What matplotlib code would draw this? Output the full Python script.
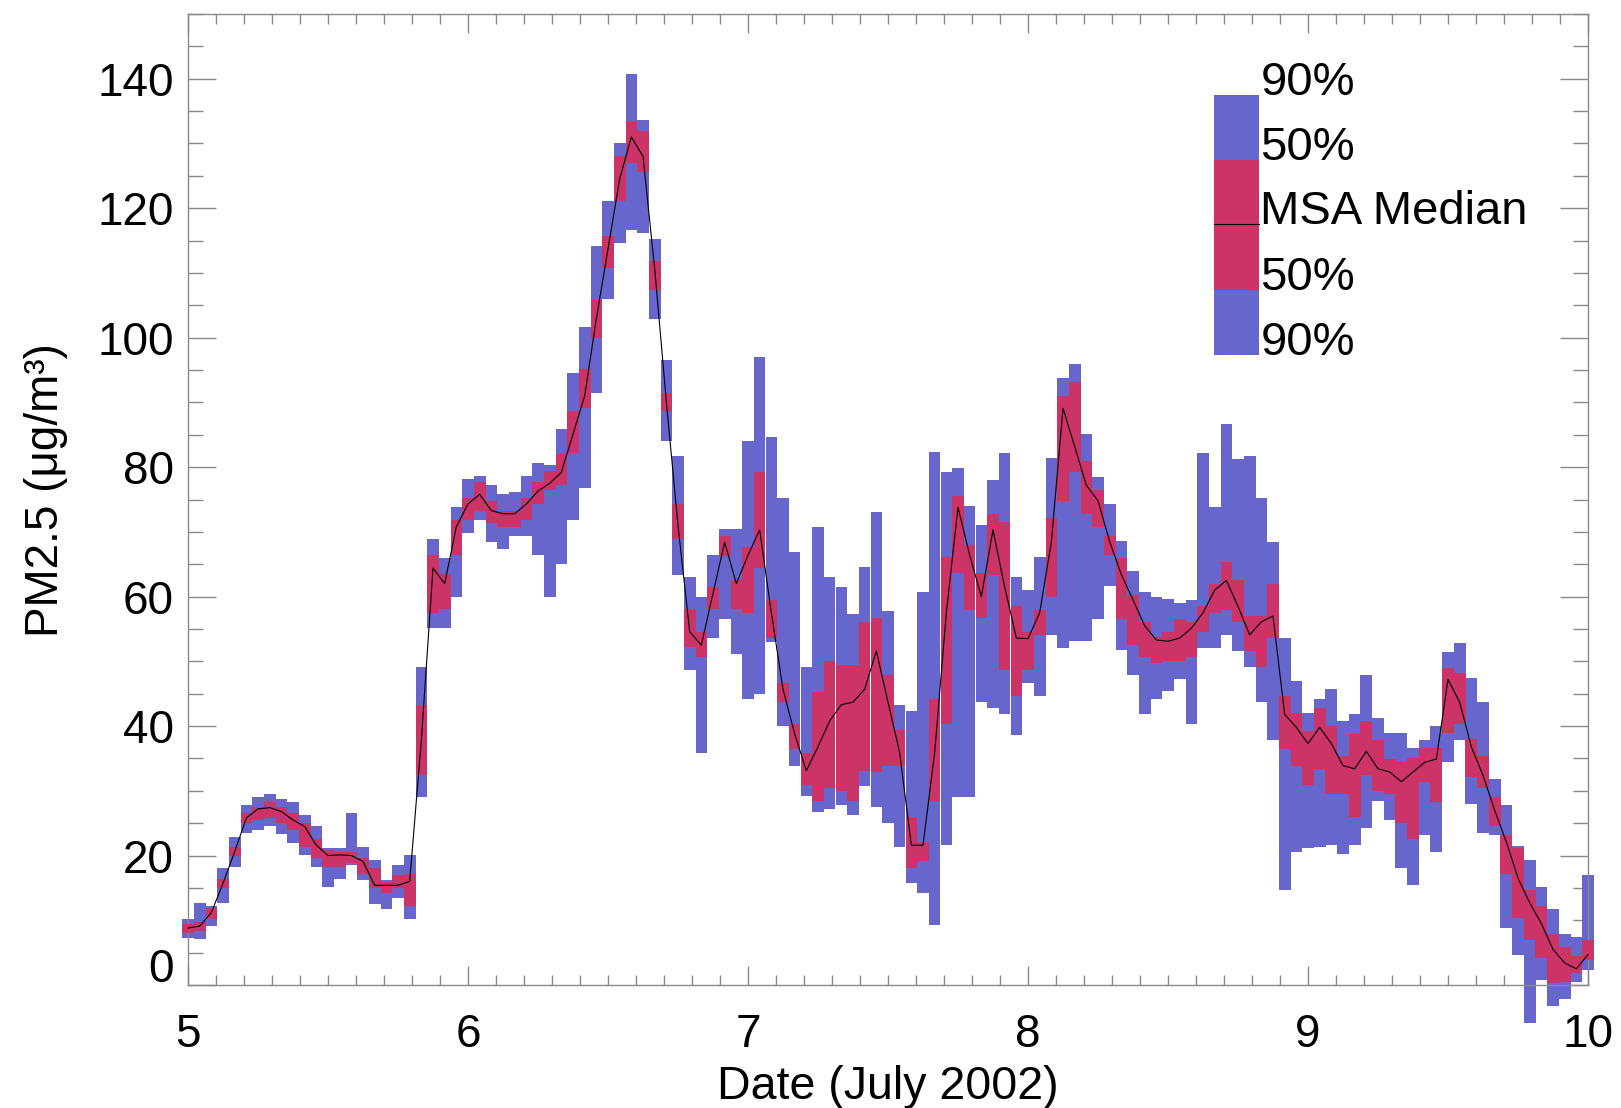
import matplotlib as mpl
import numpy as np

mpl.use("Agg")
import matplotlib.pyplot as plt
from matplotlib.patches import Rectangle
from matplotlib.ticker import MultipleLocator

# hourly MSA statistics, 5 July 00h .. 10 July 00h
start_day = 5.0
hours_per_day = 24

lo90 = [7.3, 7.1, 9.1, 12.7, 18.3, 23.5, 24.0, 24.5, 23.3, 21.9,
        20.1, 18.3, 15.2, 16.4, 18.6, 16.2, 12.5, 11.7, 13.5, 10.2,
        29.0, 55.1, 55.1, 60.0, 69.9, 71.8, 68.4, 67.4, 69.4, 69.4,
        66.4, 60.0, 65.0, 71.8, 76.7, 91.5, 106.0, 114.7, 116.6, 116.2,
        102.9, 84.1, 63.4, 48.7, 35.9, 53.6, 56.6, 51.1, 44.2, 44.9,
        53.0, 40.0, 33.9, 29.2, 26.8, 27.2, 27.8, 26.2, 30.7, 27.5,
        25.0, 21.3, 15.7, 14.2, 9.3, 21.6, 29.0, 29.0, 43.7, 42.8,
        41.8, 38.6, 46.7, 44.7, 54.1, 52.1, 53.1, 53.1, 56.6, 61.7,
        51.8, 47.9, 41.8, 44.2, 45.4, 47.2, 40.3, 52.1, 52.1, 54.1,
        51.6, 49.2, 43.7, 37.8, 14.7, 20.6, 21.1, 21.3, 21.6, 20.3,
        21.6, 24.3, 28.5, 25.5, 18.1, 15.4, 23.1, 20.6, 34.4, 37.8,
        28.0, 23.5, 23.1, 8.8, 4.6, -5.9, 0.8, -3.3, -2.1, 0.5,
        2.3]
lo50 = [8.0, 8.3, 10.2, 15.0, 19.9, 25.0, 25.5, 25.8, 25.0, 24.0,
        21.3, 19.6, 18.3, 18.3, 18.9, 17.1, 15.0, 14.2, 15.0, 12.2,
        32.4, 57.5, 58.1, 66.4, 71.8, 73.3, 71.3, 70.8, 70.8, 71.8,
        74.3, 76.5, 77.2, 82.2, 89.1, 99.9, 110.7, 121.1, 127.0, 125.6,
        107.3, 88.6, 68.9, 52.2, 50.6, 58.1, 66.2, 58.1, 57.4, 64.4,
        53.6, 43.7, 36.4, 30.9, 28.5, 30.4, 30.0, 28.5, 33.1, 32.9,
        33.9, 33.9, 18.1, 19.1, 28.5, 40.3, 63.6, 58.0, 56.7, 63.4,
        48.7, 44.7, 48.7, 54.1, 60.0, 74.8, 79.2, 72.8, 70.8, 66.4,
        56.6, 52.6, 50.6, 49.7, 50.1, 50.1, 50.6, 54.6, 57.5, 58.0,
        56.1, 51.6, 49.2, 53.6, 36.4, 33.9, 30.9, 33.4, 29.5, 29.5,
        26.0, 32.4, 30.0, 29.5, 25.0, 22.6, 31.4, 28.2, 39.0, 40.3,
        32.1, 30.4, 24.5, 17.1, 10.3, 7.0, 4.1, 0.3, 0.5, 1.8,
        3.9]
median = [8.8, 9.1, 11.2, 15.7, 20.6, 25.8, 27.2, 27.4, 26.8, 25.5,
          24.5, 21.6, 20.0, 20.1, 20.0, 19.1, 15.4, 15.4, 15.4, 16.0,
          37.8, 64.4, 62.0, 70.8, 74.3, 75.8, 73.3, 72.8, 72.8, 74.3,
          76.3, 77.5, 79.2, 85.1, 91.0, 102.9, 113.7, 124.5, 131.0, 128.0,
          110.7, 90.1, 71.0, 54.6, 52.5, 60.5, 68.4, 62.0, 66.4, 70.3,
          57.5, 45.7, 38.8, 33.1, 36.8, 40.8, 43.3, 43.7, 45.7, 51.6,
          43.7, 35.9, 21.6, 21.6, 35.9, 57.5, 73.8, 66.4, 60.0, 70.3,
          61.5, 53.6, 53.5, 57.5, 68.4, 89.1, 83.2, 77.2, 74.8, 68.5,
          63.4, 59.5, 55.5, 53.3, 53.1, 53.6, 55.1, 57.5, 61.0, 62.5,
          58.5, 54.1, 56.1, 57.0, 41.8, 39.8, 37.3, 39.8, 37.3, 33.9,
          33.4, 36.1, 33.4, 32.9, 31.4, 32.9, 34.4, 34.9, 47.2, 43.7,
          36.8, 32.4, 27.0, 22.1, 16.5, 12.7, 9.5, 5.5, 3.4, 2.5,
          4.7]
hi50 = [9.5, 9.8, 11.9, 16.4, 21.3, 26.5, 27.5, 28.2, 27.5, 26.5,
        25.0, 22.6, 20.8, 20.6, 20.6, 19.6, 18.1, 15.9, 17.0, 17.1,
        43.3, 66.4, 63.5, 71.8, 75.3, 77.7, 74.8, 73.3, 73.3, 75.3,
        77.7, 79.4, 82.0, 88.6, 95.2, 105.8, 115.7, 128.0, 133.4, 132.0,
        111.9, 91.5, 74.3, 58.1, 54.6, 61.5, 69.4, 62.5, 67.6, 79.2,
        59.5, 46.7, 40.3, 35.9, 45.2, 50.1, 49.5, 49.5, 56.1, 56.7,
        47.9, 39.4, 26.0, 22.1, 44.2, 66.1, 75.5, 67.9, 63.6, 72.8,
        71.5, 58.5, 54.6, 58.0, 72.1, 91.0, 93.2, 81.0, 76.5, 69.4,
        65.9, 60.3, 56.1, 53.8, 54.6, 56.6, 56.1, 58.5, 62.0, 65.4,
        62.5, 57.0, 57.0, 62.0, 44.7, 42.0, 39.3, 42.8, 40.0, 35.4,
        38.8, 40.8, 37.8, 34.9, 34.4, 35.1, 36.6, 36.6, 48.9, 48.2,
        38.0, 35.4, 29.0, 23.1, 21.1, 14.7, 12.2, 7.9, 5.9, 4.5,
        7.0]
hi90 = [10.2, 12.7, 12.2, 18.1, 22.8, 27.8, 29.0, 29.5, 28.8, 28.2,
        26.2, 24.5, 21.1, 21.1, 26.5, 21.3, 19.3, 16.2, 18.6, 20.1,
        49.2, 68.9, 66.0, 73.8, 78.2, 78.7, 77.2, 75.8, 76.2, 78.7,
        80.7, 80.4, 85.9, 94.5, 101.7, 114.2, 121.1, 130.0, 140.8, 133.6,
        115.2, 96.5, 81.7, 63.0, 60.0, 66.4, 70.5, 70.5, 84.1, 97.0,
        84.6, 75.3, 66.9, 49.2, 70.8, 63.0, 61.5, 57.3, 64.6, 73.1,
        57.7, 43.3, 42.3, 60.7, 82.4, 79.2, 79.9, 74.0, 71.1, 78.0,
        82.2, 63.0, 61.0, 66.1, 81.4, 93.8, 96.0, 85.1, 78.4, 74.3,
        68.6, 63.9, 60.7, 60.0, 59.7, 59.0, 59.5, 82.2, 73.8, 86.6,
        81.2, 81.7, 75.3, 68.4, 53.6, 46.9, 42.0, 44.2, 45.7, 40.8,
        41.8, 47.9, 41.3, 39.0, 39.0, 36.6, 37.8, 40.0, 51.4, 52.8,
        47.5, 43.7, 31.9, 27.8, 21.5, 19.3, 15.2, 11.8, 7.9, 7.4,
        17.0]

legend_labels = ["90%", "50%", "MSA Median", "50%", "90%"]

BLUE = "#6666CC"
RED = "#CC3366"
GRAY = "#8a8a8a"

plt.rcParams["font.family"] = ["Liberation Sans", "DejaVu Sans"]

days = start_day + np.arange(len(median)) / hours_per_day
lo90 = np.asarray(lo90)
lo50 = np.asarray(lo50)
hi50 = np.asarray(hi50)
hi90 = np.asarray(hi90)
width = 1.0 / hours_per_day

fig = plt.figure(figsize=(16.21, 11.08), dpi=100)
ax = fig.add_axes([188 / 1621, 123 / 1108, 1400 / 1621, 971 / 1108])

ax.bar(days, hi90 - lo90, bottom=lo90, width=width, color=BLUE,
       linewidth=0, clip_on=False, zorder=2)
ax.bar(days, hi50 - lo50, bottom=lo50, width=width, color=RED,
       linewidth=0, clip_on=False, zorder=3)
ax.plot(days, median, color="black", linewidth=0.8, clip_on=False, zorder=4)

ax.set_xlim(5, 10)
ax.set_ylim(0, 150)
ax.xaxis.set_major_locator(MultipleLocator(1))
ax.xaxis.set_minor_locator(MultipleLocator(0.1))
ax.set_yticks(np.arange(0, 141, 20))
ax.yaxis.set_minor_locator(MultipleLocator(5))

ax.tick_params(which="both", direction="in", top=True, right=True,
               color=GRAY, width=1.0, labelsize=33)
ax.tick_params(axis="y", which="major", length=20, pad=10)
ax.tick_params(axis="y", which="minor", length=11)
ax.tick_params(axis="x", which="major", length=14, pad=20)
ax.tick_params(axis="x", which="minor", length=7)
for sp in ax.spines.values():
    sp.set_color(GRAY)
    sp.set_linewidth(1.0)

# the bottom "0" label sits a little above its tick in the original
yticks = ax.get_yticks()
ax.set_yticklabels(["" if t == 0 else f"{int(t)}" for t in yticks])
ax.annotate("0", xy=(0, 0), xycoords=("axes fraction", "data"),
            xytext=(-14, 15), textcoords="offset pixels",
            ha="right", va="center", fontsize=33)

ax.set_xlabel("Date (July 2002)", fontsize=33.5)
ax.xaxis.set_label_coords(0.5, -0.082)
ax.xaxis.label.set_va("top")
ax.set_ylabel("PM2.5 (\u03bcg/m\u00b3)", fontsize=33)
ax.yaxis.set_label_coords(-0.086, 0.51)

# stacked colour key in the upper right
key_x0, key_x1 = 0.733, 0.765
key_edges = [0.9166, 0.8496, 0.7837, 0.7158, 0.6488]
key_colors = [BLUE, RED, RED, BLUE]
for (top, bot), c in zip(zip(key_edges[:-1], key_edges[1:]), key_colors):
    ax.add_patch(Rectangle((key_x0, bot), key_x1 - key_x0, top - bot,
                           transform=ax.transAxes, color=c, linewidth=0,
                           zorder=5))
ax.plot([key_x0, key_x1], [key_edges[2]] * 2, color="black",
        linewidth=0.8, transform=ax.transAxes, zorder=6)
for lbl, y in zip(legend_labels, key_edges):
    ax.text(key_x1 + 0.001, y, lbl, transform=ax.transAxes,
            ha="left", va="baseline", fontsize=34, zorder=6)

fig.savefig("out.png", dpi=100)
plt.close(fig)
